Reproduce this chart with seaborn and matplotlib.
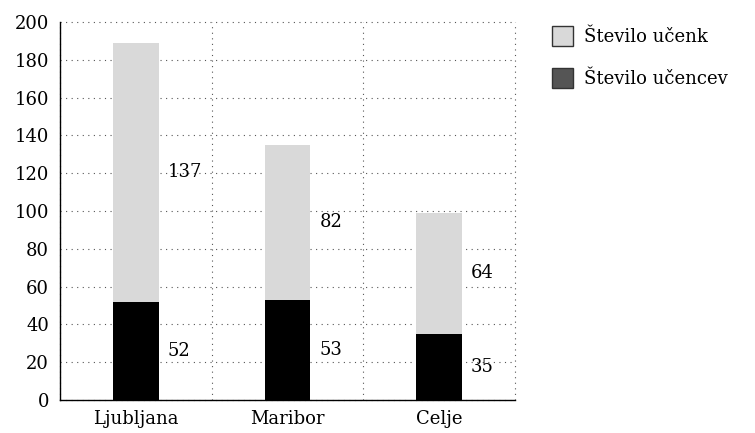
import numpy as np
import pandas as pd
import seaborn as sns
import matplotlib.pyplot as plt
from matplotlib.patches import Patch

sns.set_theme(style="white")
plt.rcParams['font.family'] = ['DejaVu Serif']
plt.rcParams['font.size'] = 13
plt.rcParams['text.color'] = 'black'
plt.rcParams['xtick.color'] = 'black'
plt.rcParams['ytick.color'] = 'black'

# podatki
mesta = ['Ljubljana', 'Maribor', 'Celje']
ucencev = [52, 53, 35]
ucenk = [137, 82, 64]
legenda = ['Število učenk', 'Število učencev']

df = pd.DataFrame({'Mesto': mesta, 'ucencev': ucencev, 'ucenk': ucenk})
df['skupaj'] = df['ucencev'] + df['ucenk']

fig = plt.figure(figsize=(7.55, 4.33), dpi=100)
ax = fig.add_axes([60 / 755, 33 / 433, 455 / 755, 378 / 433])

# siva (skupaj) in crna (ucencev) nad njo
sns.barplot(data=df, x='Mesto', y='skupaj', color='#d9d9d9', width=0.3,
            saturation=1, linewidth=0, ax=ax, zorder=2)
sns.barplot(data=df, x='Mesto', y='ucencev', color='black', width=0.3,
            saturation=1, linewidth=0, ax=ax, zorder=3)

for i, row in df.iterrows():
    ax.text(i + 0.21, row['ucencev'] / 2, f"{row['ucencev']}", ha='left',
            va='center', fontsize=13, zorder=4)
    ax.text(i + 0.21, row['ucencev'] + row['ucenk'] / 2, f"{row['ucenk']}",
            ha='left', va='center', fontsize=13, zorder=4)

ax.set_xlim(-0.5, 2.5)
ax.set_ylim(0, 200)
ax.set_yticks(np.arange(0, 201, 20))
ax.set_xticks([-0.5, 0.5, 1.5, 2.5])
ax.set_xticklabels([])
ax.set_xticks([0, 1, 2], minor=True)
ax.set_xticklabels(mesta, minor=True, fontsize=13)
ax.tick_params(axis='x', which='minor', length=0, pad=7)
ax.tick_params(axis='x', which='major', length=6, width=1, direction='out')
ax.tick_params(axis='y', length=5, width=1, direction='out', labelsize=13, pad=3)
ax.set_xlabel('')
ax.set_ylabel('')

ax.grid(True, which='major', axis='both', linestyle=(0, (1, 4)), color='#555555', linewidth=0.8)
ax.set_axisbelow(True)
for line in ax.get_xgridlines() + ax.get_ygridlines():
    line.set_clip_on(False)

for s in ['top', 'right']:
    ax.spines[s].set_visible(False)
for s in ['left', 'bottom']:
    ax.spines[s].set_color('black')
    ax.spines[s].set_linewidth(1)

handles = [Patch(facecolor='#d9d9d9', edgecolor='#333333', label=legenda[0]),
           Patch(facecolor='#555555', edgecolor='#333333', label=legenda[1])]
fig.legend(handles=handles, loc='upper left', bbox_to_anchor=(552 / 755, 1 - 26 / 433),
           frameon=False, fontsize=13, handlelength=1.15, handleheight=1.35,
           labelspacing=1.2, handletextpad=0.6, borderaxespad=0, borderpad=0)

fig.savefig('out.png', dpi=100)
